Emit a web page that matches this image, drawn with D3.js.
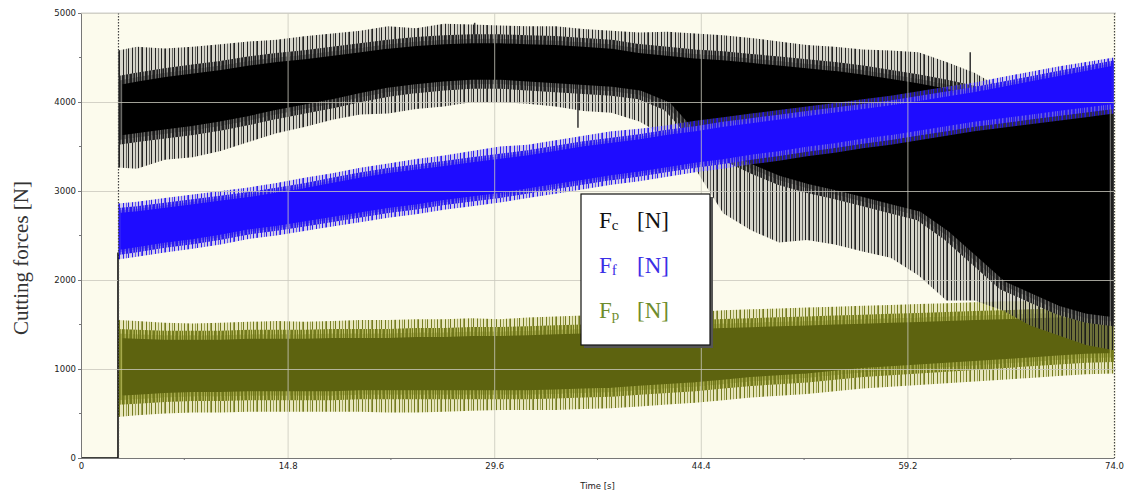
<!DOCTYPE html>
<html>
<head>
<meta charset="utf-8">
<script src="https://cdn.jsdelivr.net/npm/d3@7"></script>
<style>
  body { margin: 0; background: #fff; }
  svg text { font-family: "DejaVu Sans", sans-serif; }
  svg text.serif { font-family: "Liberation Serif", serif; }
</style>
</head>
<body>
<svg id="chart" width="1131" height="492"></svg>
<script>
// sample times [s] of the envelope readings
var time = [2.65, 4, 6, 8, 10, 12, 14, 16, 18, 20, 22, 24, 26, 28, 30, 32, 34, 36, 38,
            40, 42, 44, 46, 48, 50, 52, 54, 56, 58, 60, 62, 64, 66, 68, 70, 72, 74];

// Fc [N] - dense band (core) and its spike tips (peak)
var fcPeakHi = [4580, 4620, 4600, 4620, 4650, 4680, 4700, 4740, 4770, 4800, 4850, 4830, 4880, 4870, 4860, 4850, 4850, 4820, 4800,
                4780, 4790, 4770, 4750, 4720, 4680, 4640, 4620, 4590, 4580, 4560, 4450, 4330, 4150, 4150, 4200, 4250, 4300];
var fcCoreHi = [4240, 4280, 4330, 4370, 4410, 4460, 4500, 4530, 4570, 4610, 4650, 4680, 4700, 4710, 4710, 4700, 4690, 4670, 4650,
                4600, 4570, 4540, 4520, 4490, 4460, 4430, 4400, 4360, 4310, 4260, 4200, 4130, 4080, 4080, 4100, 4150, 4200];
var fcCoreLo = [3570, 3600, 3640, 3680, 3730, 3790, 3860, 3920, 3980, 4050, 4110, 4150, 4180, 4200, 4200, 4180, 4160, 4140, 4120,
                4080, 3950, 3600, 3400, 3250, 3120, 3030, 2960, 2880, 2800, 2720, 2500, 2220, 1940, 1800, 1660, 1570, 1530];
var fcPeakLo = [3265, 3250, 3350, 3380, 3450, 3550, 3650, 3720, 3800, 3860, 3870, 3920, 3950, 4000, 4000, 3980, 3950, 3900, 3880,
                3780, 3600, 3250, 2750, 2560, 2420, 2450, 2400, 2320, 2250, 2050, 1770, 1770, 1660, 1490, 1380, 1270, 1210];

// Ff [N]
var ffPeakHi = [2860, 2880, 2920, 2960, 3000, 3040, 3090, 3150, 3200, 3260, 3310, 3360, 3400, 3450, 3500, 3520, 3570, 3620, 3670,
                3700, 3740, 3790, 3830, 3870, 3910, 3950, 3990, 4030, 4070, 4120, 4170, 4220, 4280, 4340, 4400, 4450, 4500];
var ffCoreHi = [2780, 2800, 2840, 2880, 2920, 2960, 3010, 3060, 3120, 3180, 3230, 3270, 3310, 3350, 3390, 3430, 3480, 3530, 3570,
                3610, 3660, 3700, 3750, 3790, 3830, 3870, 3910, 3950, 3990, 4040, 4090, 4140, 4200, 4260, 4320, 4380, 4440];
var ffCoreLo = [2310, 2340, 2390, 2430, 2480, 2540, 2580, 2630, 2680, 2730, 2780, 2820, 2870, 2910, 2950, 3000, 3050, 3100, 3150,
                3190, 3240, 3290, 3330, 3380, 3420, 3470, 3510, 3560, 3600, 3650, 3700, 3750, 3790, 3830, 3870, 3910, 3950];
var ffPeakLo = [2230, 2260, 2310, 2350, 2400, 2460, 2500, 2550, 2600, 2650, 2700, 2740, 2790, 2830, 2870, 2920, 2970, 3020, 3070,
                3110, 3160, 3210, 3250, 3300, 3340, 3390, 3430, 3480, 3520, 3570, 3620, 3670, 3710, 3750, 3790, 3830, 3870];

// Fp [N]
var fpPeakHi = [1550, 1540, 1520, 1510, 1520, 1530, 1540, 1530, 1540, 1550, 1550, 1560, 1560, 1570, 1560, 1580, 1590, 1600, 1600,
                1620, 1630, 1640, 1660, 1670, 1680, 1690, 1700, 1710, 1720, 1730, 1740, 1750, 1760, 1760, 1770, 1770, 1780];
var fpCoreHi = [1400, 1390, 1380, 1380, 1380, 1390, 1390, 1390, 1400, 1400, 1400, 1410, 1410, 1420, 1420, 1430, 1440, 1450, 1460,
                1470, 1480, 1500, 1510, 1520, 1530, 1540, 1550, 1560, 1570, 1580, 1590, 1600, 1610, 1620, 1630, 1630, 1640];
var fpCoreLo = [650, 660, 680, 690, 690, 700, 700, 700, 700, 710, 710, 710, 710, 710, 710, 710, 720, 730, 740,
                760, 780, 800, 830, 860, 880, 900, 930, 960, 980, 1000, 1020, 1040, 1060, 1080, 1100, 1120, 1130];
var fpPeakLo = [460, 480, 500, 510, 510, 520, 520, 520, 520, 520, 510, 510, 520, 530, 540, 540, 540, 550, 560,
                580, 600, 620, 650, 680, 700, 720, 750, 780, 800, 820, 840, 860, 880, 900, 920, 940, 950];

// single long spikes of Fc (time, tip value, band edge value)
var fcSpikeT = [35.6, 63.7, 28.2];
var fcSpikeTip = [3710, 4560, 4890];
var fcSpikeBase = [4150, 4130, 4710];

// idle part before the cut starts
var leadT = [0, 2.65];
var leadV = [0, 0];

var xTicks = [0, 14.8, 29.6, 44.4, 59.2, 74.0];
var xTickLabels = ["0", "14.8", "29.6", "44.4", "59.2", "74.0"];
var yTicks = [0, 1000, 2000, 3000, 4000, 5000];
var yTickLabels = ["0", "1000", "2000", "3000", "4000", "5000"];
var legendSubs = ["c", "f", "p"];

var svg = d3.select("#chart");
var x = d3.scaleLinear().domain([0, 74]).range([81, 1114]);
var y = d3.scaleLinear().domain([0, 5000]).range([458, 13]);

var series = [
    { id: "fp", core: "#5d630f", fringe: "#bfc060", stripe: "#6f7618", peakHi: fpPeakHi, coreHi: fpCoreHi, coreLo: fpCoreLo, peakLo: fpPeakLo },
    { id: "fc", core: "#000000", fringe: "#8c8c88", stripe: "#1a1a1a", peakHi: fcPeakHi, coreHi: fcCoreHi, coreLo: fcCoreLo, peakLo: fcPeakLo },
    { id: "ff", core: "#1e0cff", fringe: "#8076e6", stripe: "#2414f0", peakHi: ffPeakHi, coreHi: ffCoreHi, coreLo: ffCoreLo, peakLo: ffPeakLo }
];
var legendColors = ["#111111", "#3b2ee6", "#6e8c2c"];

// plot background
svg.append("rect")
    .attr("x", x(0)).attr("y", y(5000))
    .attr("width", x(74) - x(0) + 2).attr("height", y(0) - y(5000))
    .attr("fill", "#fcfbed");

var defs = svg.append("defs");
defs.append("clipPath").attr("id", "cut-clip").append("rect")
    .attr("x", x(time[0])).attr("y", y(5000))
    .attr("width", x(74) - x(time[0])).attr("height", y(0) - y(5000));

// spiky textures: sparse for the spike tips, dense next to the band
var sparseAt = [0, 3, 4, 8, 11, 13, 17, 20];
var denseAt = [0, 1, 2, 4, 5, 7, 8, 9, 11, 12, 14, 15, 16, 18, 19, 21];
series.forEach(function(s) {
    [["sparse", sparseAt, 0.35], ["dense", denseAt, 0.75]].forEach(function(kind) {
        var p = defs.append("pattern")
            .attr("id", kind[0] + "-" + s.id)
            .attr("patternUnits", "userSpaceOnUse")
            .attr("width", 23).attr("height", 20);
        p.append("rect").attr("width", 23).attr("height", 20).attr("fill", s.fringe).attr("opacity", kind[2]);
        kind[1].forEach(function(px, i) {
            p.append("rect").attr("x", px).attr("y", 0).attr("width", 1).attr("height", 20)
                .attr("fill", s.stripe).attr("opacity", i % 3 === 1 ? 0.6 : 0.95);
        });
    });
});

function band(lo, hi) {
    return d3.area()
        .x(function(d, i) { return x(time[i]); })
        .y0(function(d, i) { return y(lo[i]); })
        .y1(function(d, i) { return y(hi[i]); })
        .curve(d3.curveLinear);
}

var marks = svg.append("g").attr("clip-path", "url(#cut-clip)");
series.forEach(function(s) {
    var g = marks.append("g").attr("class", "series-" + s.id);
    g.append("path").datum(time)
        .attr("d", band(s.coreHi, s.peakHi))
        .attr("fill", "url(#sparse-" + s.id + ")");
    g.append("path").datum(time)
        .attr("d", band(s.peakLo, s.coreLo))
        .attr("fill", "url(#sparse-" + s.id + ")");
    g.append("path").datum(time)
        .attr("d", band(s.coreLo, s.coreHi))
        .attr("fill", s.core)
        .attr("stroke", "url(#dense-" + s.id + ")")
        .attr("stroke-width", s.id === "ff" ? 5 : 9)
        .attr("stroke-linejoin", "round");
    if (s.id === "fc") {
        g.selectAll("line.spike").data(fcSpikeT).enter().append("line")
            .attr("class", "spike")
            .attr("x1", function(d) { return x(d); }).attr("x2", function(d) { return x(d); })
            .attr("y1", function(d, i) { return y(fcSpikeBase[i]); })
            .attr("y2", function(d, i) { return y(fcSpikeTip[i]); })
            .attr("stroke", "#333").attr("stroke-width", 1.5);
    }
});

// idle signal and start of cut
svg.append("path")
    .datum(leadT)
    .attr("d", d3.line().x(function(d) { return x(d); }).y(function(d, i) { return y(leadV[i]); }))
    .attr("stroke", "#000").attr("stroke-width", 1.5).attr("fill", "none");
svg.append("line")
    .attr("x1", x(time[0])).attr("x2", x(time[0]))
    .attr("y1", y(0)).attr("y2", y(ffCoreLo[0]))
    .attr("stroke", "#000").attr("stroke-width", 1.5);

// grid, drawn over the traces as in the original
var grid = svg.append("g").attr("stroke", "#c9c8bd").attr("stroke-opacity", 0.8).attr("stroke-width", 1);
grid.selectAll("line.gx").data(xTicks.slice(1, -1)).enter().append("line")
    .attr("x1", function(d) { return x(d) + 0.5; }).attr("x2", function(d) { return x(d) + 0.5; })
    .attr("y1", y(5000)).attr("y2", y(0));
grid.selectAll("line.gy").data(yTicks.slice(1)).enter().append("line")
    .attr("x1", x(0)).attr("x2", x(74) + 2)
    .attr("y1", function(d) { return y(d) + 0.5; }).attr("y2", function(d) { return y(d) + 0.5; });

// start / end markers (dotted)
[time[0], 74].forEach(function(t) {
    svg.append("line")
        .attr("x1", x(t) + 0.5).attr("x2", x(t) + 0.5)
        .attr("y1", y(5000)).attr("y2", y(0))
        .attr("stroke", "#444").attr("stroke-width", 1.2).attr("stroke-dasharray", "1.5,1.5");
});

// axes
var yAxis = d3.axisLeft(y).tickValues(yTicks).tickSize(3).tickFormat(function(d, i) { return yTickLabels[i]; });
var gy = svg.append("g").attr("transform", "translate(" + x(0) + ",0)").call(yAxis);
gy.select(".domain").attr("stroke", "#777");
gy.selectAll(".tick line").attr("stroke", "#777");
gy.selectAll(".tick text").attr("font-size", 8.5).attr("fill", "#222").attr("x", -5);

var xAxis = d3.axisBottom(x).tickValues(xTicks).tickSize(0).tickFormat(function(d, i) { return xTickLabels[i]; });
var gx = svg.append("g").attr("transform", "translate(0," + y(0) + ")").call(xAxis);
gx.select(".domain").attr("stroke", "#777");
gx.selectAll(".tick text").attr("font-size", 8.5).attr("fill", "#222").attr("dy", "0.95em");

// minor ticks
svg.append("g").selectAll("line").data(d3.range(500, 5000, 1000)).enter().append("line")
    .attr("x1", x(0) - 2).attr("x2", x(0))
    .attr("y1", function(d) { return y(d); }).attr("y2", function(d) { return y(d); })
    .attr("stroke", "#777");
svg.append("g").selectAll("line").data(d3.range(7.4, 74, 14.8)).enter().append("line")
    .attr("x1", function(d) { return x(d); }).attr("x2", function(d) { return x(d); })
    .attr("y1", y(0)).attr("y2", y(0) + 2)
    .attr("stroke", "#777");
// top border
svg.append("line").attr("x1", x(0)).attr("x2", x(74) + 2).attr("y1", y(5000)).attr("y2", y(5000))
    .attr("stroke", "#cfcfc8");

// axis titles
svg.append("text").attr("x", (x(0) + x(74)) / 2).attr("y", 489)
    .attr("text-anchor", "middle").attr("font-size", 8.5).attr("fill", "#222")
    .text("Time [s]");
svg.append("text")
    .attr("class", "serif")
    .attr("transform", "translate(28,258) rotate(-90)")
    .attr("text-anchor", "middle")
    .attr("font-size", 21).attr("fill", "#333")
    .text("Cutting forces  [N]");

// legend
var lg = svg.append("g").attr("transform", "translate(581,194)");
lg.append("rect").attr("x", 3).attr("y", 3).attr("width", 129).attr("height", 151).attr("fill", "#555");
lg.append("rect").attr("width", 129).attr("height", 151).attr("fill", "#fff")
    .attr("stroke", "#111").attr("stroke-width", 1.2);
var rows = lg.selectAll("g.row").data(legendSubs).enter().append("g")
    .attr("transform", function(d, i) { return "translate(18," + (34 + i * 45) + ")"; })
    .attr("fill", function(d, i) { return legendColors[i]; });
rows.append("text").attr("class", "serif").attr("font-size", 23).text("F")
    .append("tspan").attr("font-size", 15).attr("dy", 2).text(function(d) { return d; });
rows.append("text").attr("class", "serif").attr("x", 38).attr("font-size", 23).text("[N]");
</script>
</body>
</html>
